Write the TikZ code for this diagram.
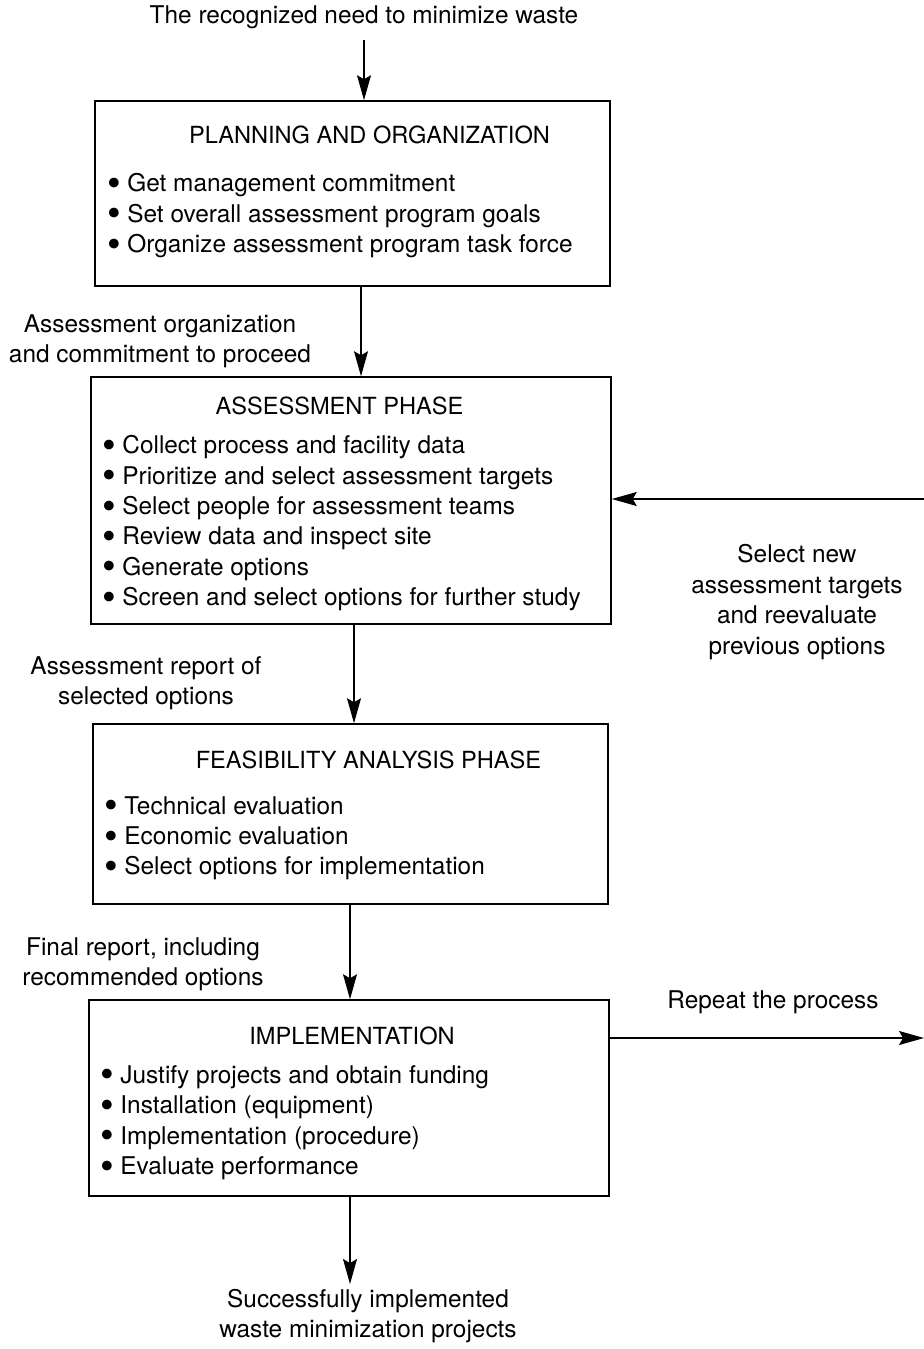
\documentclass[tikz,border=0pt]{standalone}
\usepackage{fontspec}
\usepackage{graphicx}
\setmainfont{TeX Gyre Heros}
\usetikzlibrary{positioning, arrows.meta}

\newcommand{\blt}{\makebox[10pt][l]{\smash{\raisebox{-2.3pt}{\scalebox{1.6}{\textbullet}}}}}

\begin{document}
\begin{tikzpicture}[x=0.5pt, y=-0.5pt,
  font=\fontsize{12.2}{15.2}\selectfont,
  phase/.style={draw, line width=0.75pt, inner sep=0pt},
  title/.style={anchor=mid, font=\fontsize{11.8}{15}\selectfont},
  flow/.style={line width=0.65pt, -{Stealth[length=12.5pt, width=7pt, inset=2pt]}},
  note/.style={align=center, inner sep=0pt},
  items/.style={align=left, inner sep=0pt, anchor=north west}]

\useasboundingbox (0,0) rectangle (924,1349);

% Boxes
\node[phase, minimum width=257.5pt, minimum height=92.5pt] (plan) at (352.5,193.5) {};
\node[phase, minimum width=260pt, minimum height=123.5pt] (assess) at (351,500.5) {};
\node[phase, minimum width=257.5pt, minimum height=90pt] (feas) at (350.5,814) {};
\node[phase, minimum width=260pt, minimum height=98pt] (impl) at (349,1098) {};

% Titles
\node[title] (plant) at (369.5,138) {PLANNING AND ORGANIZATION};
\node[title] (assesst) at (339.5,409) {ASSESSMENT PHASE};
\node[title] (feast) at (368.5,763) {FEASIBILITY ANALYSIS PHASE};
\node[title] (implt) at (352,1039) {IMPLEMENTATION};

% Bullet lists
\node[items] (planl) at (107,173) {\blt Get management commitment\\
  \blt Set overall assessment program goals\\
  \blt Organize assessment program task force};
\node[items] (assessl) at (102,435) {\blt Collect process and facility data\\
  \blt Prioritize and select assessment targets\\
  \blt Select people for assessment teams\\
  \blt Review data and inspect site\\
  \blt Generate options\\
  \blt Screen and select options for further study};
\node[items] (feasl) at (104,796) {\blt Technical evaluation\\
  \blt Economic evaluation\\
  \blt Select options for implementation};
\node[items] (impll) at (100,1065) {\blt Justify projects and obtain funding\\
  \blt Installation (equipment)\\
  \blt Implementation (procedure)\\
  \blt Evaluate performance};

% Labels
\node[note, anchor=mid] (need) at (364,18) {The recognized need to minimize waste};
\node[note] (commit) at (160,341) {Assessment organization\\and commitment to proceed};
\node[note] (report) at (146,683) {Assessment report of\\selected options};
\node[note] (final) at (143,964) {Final report, including\\recommended options};
\node[note] (done) at (368,1316) {Successfully implemented\\waste minimization projects};
\node[note] (newtgt) at (797,602) {Select new\\assessment targets\\and reevaluate\\previous options};
\node[note, anchor=mid] (repeat) at (773,1003) {Repeat the process};

% Connectors
\coordinate (start) at (364,40);
\coordinate (finish) at (350,1284);
\coordinate (loopin) at (924,499);
\coordinate (loopout) at (924,1038);
\draw[flow] (start) -- (start |- plan.north);
\draw[flow] ([xshift=4.25pt]plan.south) -- ([xshift=5pt]assess.north);
\draw[flow] ([xshift=1.5pt]assess.south) -- ([xshift=1.75pt]feas.north);
\draw[flow] ([xshift=-0.25pt]feas.south) -- ([xshift=0.5pt]impl.north);
\draw[flow] ([xshift=0.5pt]impl.south) -- (finish);
\draw[flow] (loopin) -- (loopin -| assess.east);
\draw[flow] (impl.east |- loopout) -- (loopout);

\end{tikzpicture}
\end{document}
